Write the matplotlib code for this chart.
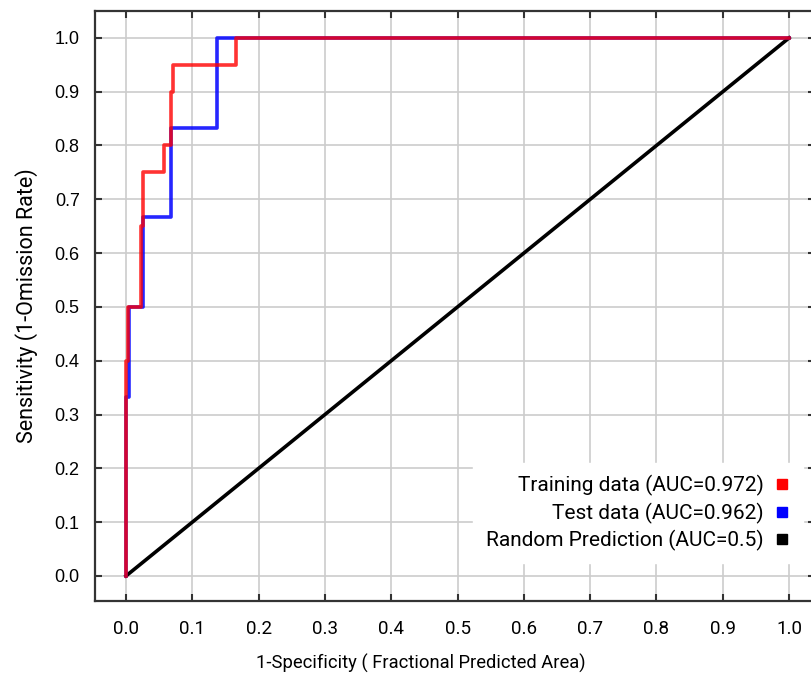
import matplotlib
matplotlib.use('Agg')
import matplotlib.pyplot as plt
from matplotlib import font_manager
from matplotlib.lines import Line2D

# ROC data
train_fpr = [0.0, 0.0, 0.003, 0.003, 0.023, 0.023, 0.026, 0.026, 0.057, 0.057,
             0.068, 0.068, 0.071, 0.071, 0.166, 0.166, 1.0]
train_tpr = [0.0, 0.4, 0.4, 0.5, 0.5, 0.65, 0.65, 0.75, 0.75, 0.8,
             0.8, 0.9, 0.9, 0.95, 0.95, 1.0, 1.0]
test_fpr = [0.0, 0.0, 0.004, 0.004, 0.026, 0.026, 0.068, 0.068, 0.137, 0.137, 1.0]
test_tpr = [0.0, 0.333, 0.333, 0.5, 0.5, 0.667, 0.667, 0.833, 0.833, 1.0, 1.0]
rand_fpr = [0.0, 1.0]
rand_tpr = [0.0, 1.0]

labels = ['Training data (AUC=0.972)', 'Test data (AUC=0.962)', 'Random Prediction (AUC=0.5)']
ticks = [0.0, 0.1, 0.2, 0.3, 0.4, 0.5, 0.6, 0.7, 0.8, 0.9, 1.0]

names = {f.name for f in font_manager.fontManager.ttflist}
narrow = 'Liberation Sans Narrow' if 'Liberation Sans Narrow' in names else 'Roboto'

fig = plt.figure(figsize=(8.11, 6.82), dpi=100)
ax = fig.add_axes([0.1171, 0.1188, 0.8878, 0.8651])

ax.plot(rand_fpr, rand_tpr, color='black', lw=2.6, zorder=3)
ax.plot(test_fpr, test_tpr, color='#0000ff', lw=2.6, alpha=0.85, zorder=4)
ax.plot(train_fpr, train_tpr, color='#ff0000', lw=2.6, alpha=0.8, zorder=5)

ax.set_xlim(-0.0468, 1.039)
ax.set_ylim(-0.0465, 1.05)
ax.set_xticks(ticks)
ax.set_yticks(ticks)
ax.set_xticklabels(['%.1f' % t for t in ticks], family=narrow, fontsize=13.5)
ax.set_yticklabels(['%.1f' % t for t in ticks], family='Liberation Sans', fontsize=13)
ax.tick_params(direction='in', length=5, width=1.5, color='#333333', pad=11,
               top=True, right=True)
ax.tick_params(axis='x', pad=14)
ax.grid(True, color='#cccccc', lw=1.2)
ax.set_axisbelow(True)
for s in ax.spines.values():
    s.set_color('#333333')
    s.set_linewidth(1.6)

ax.set_xlabel('1-Specificity ( Fractional Predicted Area)', family=narrow, fontsize=13.2)
ax.xaxis.set_label_coords(0.453, -0.09)
ax.set_ylabel('Sensitivity (1-Omission Rate)', family=narrow, fontsize=15.5, labelpad=12)

handles = [Line2D([], [], ls='none', marker='s', ms=6.5, color=c) for c in ['#ff0000', '#0000ff', 'black']]
leg = ax.legend(handles, labels, loc='lower right', bbox_to_anchor=(0.998, 0.046),
                markerfirst=False, frameon=True, fancybox=False, framealpha=1,
                edgecolor='white', facecolor='white', handlelength=0.8,
                handletextpad=0.5, labelspacing=0.3, borderpad=0.6,
                prop={'family': 'Roboto', 'size': 15})
for t in leg.get_texts():
    t.set_ha('right')
leg._legend_box.align = 'right'

fig.savefig('out.png', dpi=100)
